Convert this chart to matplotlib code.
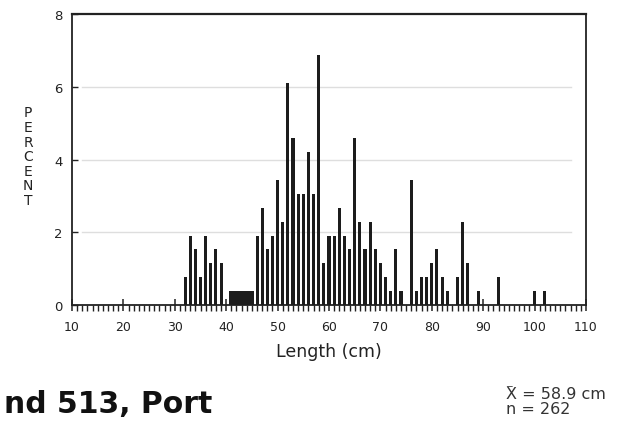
#!/usr/bin/env python
# Length frequency histogram (percent by cm length class)

import numpy as np
import matplotlib
matplotlib.use("Agg")
import matplotlib.pyplot as plt
from matplotlib.ticker import MultipleLocator

plt.rcParams['font.family'] = ['DejaVu Sans']

# Length classes (cm) and percent of sample in each
length_cm = [32, 33, 34, 35, 36, 37, 38, 39,
             41, 42, 43, 44, 45,
             46, 47, 48, 49, 50, 51, 52, 53, 54, 55, 56, 57, 58, 59,
             60, 61, 62, 63, 64, 65, 66, 67, 68, 69,
             70, 71, 72, 73, 74, 76, 77, 78, 79,
             80, 81, 82, 83, 85, 86, 87, 89,
             93, 100, 102]
percent = [0.76, 1.91, 1.53, 0.76, 1.91, 1.15, 1.53, 1.15,
           0.38, 0.38, 0.38, 0.38, 0.38,
           1.91, 2.67, 1.53, 1.91, 3.44, 2.29, 6.11, 4.58, 3.05, 3.05, 4.20, 3.05, 6.87, 1.15,
           1.91, 1.91, 2.67, 1.91, 1.53, 4.58, 2.29, 1.53, 2.29, 1.53,
           1.15, 0.76, 0.38, 1.53, 0.38, 3.44, 0.38, 0.76, 0.76,
           1.15, 1.53, 0.76, 0.38, 0.76, 2.29, 1.15, 0.38,
           0.76, 0.38, 0.38]

x_ticks = [10, 20, 30, 40, 50, 60, 70, 80, 90, 100, 110]
y_ticks = [0, 2, 4, 6, 8]

title_text = "nd 513, Port"
mean_text = "X = 58.9 cm"
n_text = "n = 262"

fig = plt.figure(figsize=(6.23, 4.27), dpi=100)
ax = fig.add_axes([0.1156, 0.283, 0.825, 0.682])

# the 41-45 run is printed as one solid block in the original
widths = [1.0 if 41 <= c <= 45 else 0.6 for c in length_cm]
ax.bar(length_cm, percent, width=widths, color='#1c1c1c', edgecolor='none', zorder=3)

ax.set_xlim(10, 110)
ax.set_ylim(0, 8)
ax.set_xticks(x_ticks)
ax.set_yticks(y_ticks)
ax.xaxis.set_minor_locator(MultipleLocator(1))
ax.tick_params(axis='x', which='major', direction='inout', length=8, width=1.1,
               labelsize=9, pad=7, colors='#222222')
ax.tick_params(axis='x', which='minor', direction='out', length=4.5, width=1.0, colors='#222222')
ax.tick_params(axis='y', which='major', direction='in', length=4, width=1.0,
               labelsize=9.5, pad=7, colors='#222222')

# faint horizontal guide lines
for yv in y_ticks[1:-1]:
    ax.axhline(yv, xmin=0.02, xmax=0.97, color='#dedede', linewidth=1.0, zorder=1)

for sp in ax.spines.values():
    sp.set_color('#222222')
    sp.set_linewidth(1.3)
ax.spines['top'].set_linewidth(1.6)

ax.set_xlabel("Length (cm)", fontsize=12.5, color='#222222', labelpad=6)

# stacked upright letters for the y label
fig.text(0.045, 0.632, "\n".join("PERCENT"), fontsize=10, color='#222222',
         ha='center', va='center', linespacing=1.05)

# bottom captions
fig.text(0.006, 1 - 413 / 427, title_text, fontsize=21.5, fontweight='bold', color='#111111',
         ha='left', va='baseline')
fig.text(0.813, 1 - 384 / 427, "_", fontsize=8, color='#333333', ha='left', va='baseline')
fig.text(0.813, 1 - 399 / 427, mean_text, fontsize=11.5, color='#333333', ha='left', va='baseline')
fig.text(0.813, 1 - 414 / 427, n_text, fontsize=11.5, color='#333333', ha='left', va='baseline')

plt.savefig("out.png", dpi=100)
